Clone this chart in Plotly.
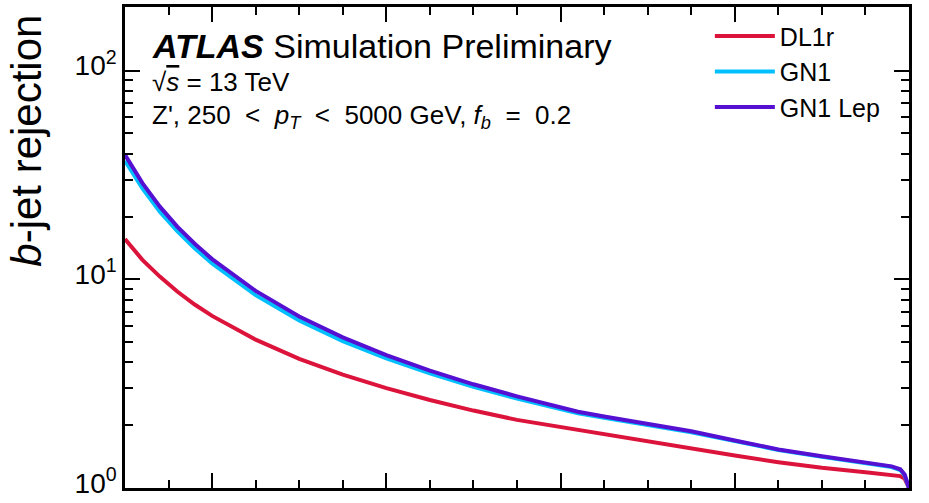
import plotly.graph_objects as go

# c-jet efficiency (x) values
eff = [0.10, 0.12, 0.14, 0.16, 0.18, 0.20, 0.25, 0.30, 0.35, 0.40, 0.45, 0.50,
       0.55, 0.60, 0.62, 0.65, 0.70, 0.75, 0.80, 0.85, 0.90, 0.95, 0.98, 0.99,
       0.995, 1.0]

# b-jet rejection per tagger
dl1r = [15.6, 12.4, 10.3, 8.74, 7.57, 6.68, 5.14, 4.16, 3.49, 3.01, 2.64, 2.35,
        2.12, 1.96, 1.89, 1.80, 1.66, 1.54, 1.43, 1.33, 1.25, 1.19, 1.16, 1.14,
        1.11, 1.0]
gn1 = [37.0, 27.3, 21.1, 17.0, 14.1, 11.9, 8.4, 6.35, 5.06, 4.18, 3.54, 3.05,
       2.68, 2.38, 2.28, 2.17, 2.01, 1.85, 1.68, 1.52, 1.41, 1.31, 1.26, 1.22,
       1.15, 1.0]
gn1_lep = [39.5, 28.9, 22.3, 17.9, 14.8, 12.5, 8.8, 6.64, 5.27, 4.33, 3.65, 3.14,
           2.75, 2.43, 2.32, 2.20, 2.03, 1.87, 1.69, 1.53, 1.42, 1.32, 1.27, 1.23,
           1.16, 1.0]

series_names = ["DL1r", "GN1", "GN1 Lep"]
series_values = [dl1r, gn1, gn1_lep]
series_colors = ["#DC143C", "#00BFFF", "#5510D2"]

y_major = [1, 10, 100]
y_major_text = ["10<sup>0</sup>", "10<sup>1</sup>", "10<sup>2</sup>"]
y_minor = [2, 3, 4, 5, 6, 7, 8, 9, 20, 30, 40, 50, 60, 70, 80, 90, 200]

FONT = "Liberation Sans, Arial, Helvetica, sans-serif"

fig = go.Figure()
for name, vals, col in zip(series_names, series_values, series_colors):
    fig.add_trace(go.Scatter(x=eff, y=vals, mode="lines", name=name,
                             line=dict(color=col, width=4)))

axis_common = dict(
    showline=True, linecolor="black", linewidth=2.5, mirror="allticks",
    ticks="inside", ticklen=15, tickwidth=2, tickcolor="black",
    showgrid=False, zeroline=False,
)

fig.update_xaxes(
    range=[0.1, 1.0], tickmode="linear", tick0=0.2, dtick=0.2,
    showticklabels=False,
    minor=dict(ticks="inside", ticklen=8, tickwidth=1.5, tickcolor="black",
               tick0=0.1, dtick=0.05, showgrid=False),
    **axis_common,
)
fig.update_yaxes(
    type="log", range=[0, 2.305], tickmode="array", tickvals=y_major,
    ticktext=y_major_text, ticklabeloverflow="allow", ticklabelshift=-5,
    tickfont=dict(family=FONT, size=28, color="black"),
    minor=dict(ticks="inside", ticklen=8, tickwidth=1.5, tickcolor="black",
               tickmode="array", tickvals=y_minor, showgrid=False),
    **axis_common,
)

fig.add_annotation(xref="paper", yref="paper", x=-0.1250, y=0.722,
                   text="<i>b</i>-jet rejection", textangle=-90, showarrow=False,
                   xanchor="center", yanchor="middle",
                   font=dict(family=FONT, size=42, color="black"))

fig.add_annotation(xref="paper", yref="paper", x=0.032, y=0.918,
                   text="<b><i>ATLAS</i></b> Simulation Preliminary",
                   showarrow=False, xanchor="left", yanchor="middle",
                   font=dict(family=FONT, size=34, color="black"))
fig.add_annotation(xref="paper", yref="paper", x=0.032, y=0.845,
                   text="√<span style='text-decoration:overline'><i>s</i></span> = 13 TeV",
                   showarrow=False, xanchor="left", yanchor="middle",
                   font=dict(family=FONT, size=26, color="black"))
fig.add_annotation(xref="paper", yref="paper", x=0.032, y=0.773,
                   text=("Z', 250&nbsp;&nbsp;&lt;&nbsp;&nbsp;<i>p</i><sub><i>T</i></sub>"
                         "&nbsp;&nbsp;&lt;&nbsp;&nbsp;5000 GeV, <i>f</i><sub><i>b</i></sub>"
                         "&nbsp;&nbsp;=&nbsp;&nbsp;0.2"),
                   showarrow=False, xanchor="left", yanchor="middle",
                   font=dict(family=FONT, size=26, color="black"))

fig.update_layout(
    width=929, height=503,
    margin=dict(l=125, r=20, t=4, b=15),
    paper_bgcolor="white", plot_bgcolor="white",
    font=dict(family=FONT, color="black"),
    showlegend=True,
    legend=dict(x=0.746, y=0.987, xanchor="left", yanchor="top",
                bgcolor="rgba(0,0,0,0)", borderwidth=0,
                font=dict(family=FONT, size=25, color="black"),
                itemwidth=60, tracegroupgap=0),
)

fig.write_html("out.html")
